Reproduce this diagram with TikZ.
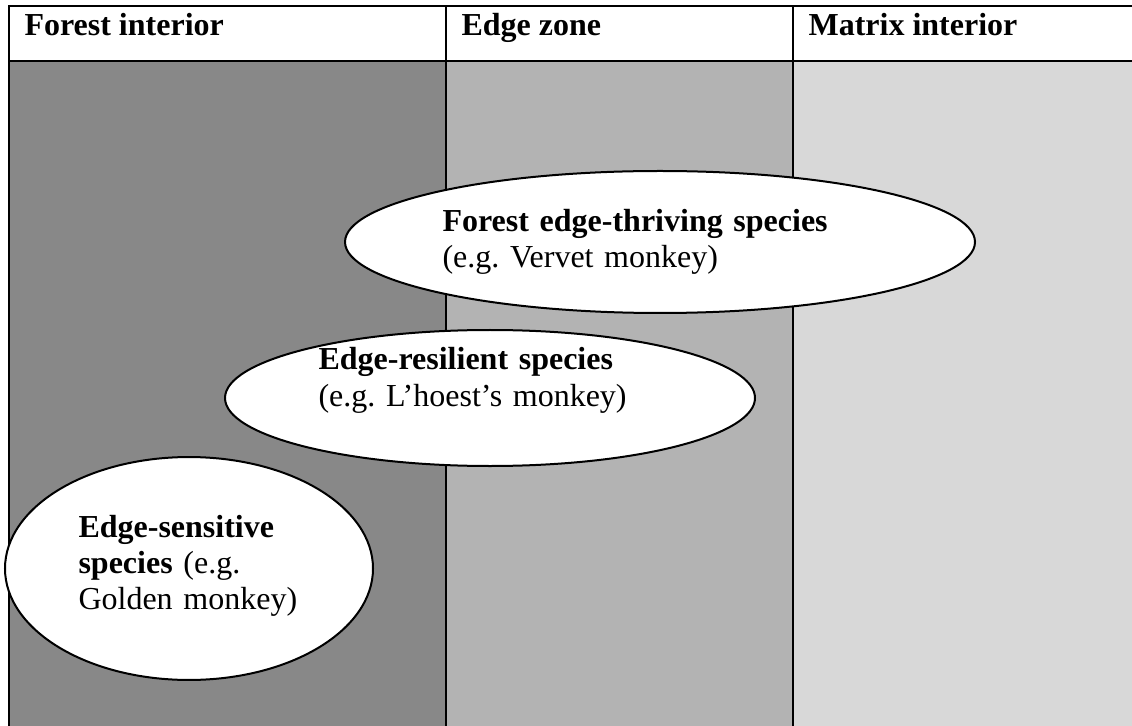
\documentclass[tikz,border=0pt]{standalone}
\usepackage{fontspec}
\setmainfont{Liberation Serif}
\usetikzlibrary{shapes.geometric,positioning}
\definecolor{forestgray}{RGB}{136,136,136}
\definecolor{edgegray}{RGB}{179,179,179}
\definecolor{matrixgray}{RGB}{216,216,216}
\tikzset{
  zoneline/.style={draw=black,line width=0.7pt},
  headline/.style={draw=black,line width=1.1pt},
  headnode/.style={anchor=base west,inner sep=0pt,font=\fontsize{12}{13.8}\selectfont\bfseries},
  speciesnode/.style={ellipse,draw=black,line width=0.75pt,fill=white,inner sep=0pt},
  labelnode/.style={anchor=base west,inner sep=0pt,text width=200pt,align=left,
    font=\fontsize{12}{13.5}\selectfont\frenchspacing}
}

\begin{document}
\begin{tikzpicture}[x=0.375pt,y=-0.375pt]
  \useasboundingbox (0,0) rectangle (1132,726);
  \fill[forestgray] (9,61) rectangle (446,726);
  \fill[edgegray] (446,61) rectangle (793,726);
  \fill[matrixgray] (793,61) rectangle (1132,726);

  \draw[zoneline] (9,726) -- (9,6) -- (1132,6);
  \draw[zoneline] (446,6) -- (446,726);
  \draw[zoneline] (793,6) -- (793,726);
  \draw[headline] (9,61) -- (1132,61);

  \node[headnode] (forestHead) at (24,36) {Forest interior};
  \node[headnode] (edgeHead) at (461,36) {Edge zone};
  \node[headnode] (matrixHead) at (808,36) {Matrix interior};

  \node[speciesnode,minimum width=236.25pt,minimum height=53.25pt] (thriving) at (660,242) {};
  \node[speciesnode,minimum width=198.75pt,minimum height=51pt] (resilient) at (490,398) {};
  \node[speciesnode,minimum width=138pt,minimum height=83.6pt] (sensitive) at (189,568.5) {};

  \node[labelnode] (thrivingText) at (442,232)
    {\textbf{Forest edge-thriving species}\\(e.g. Vervet monkey)};
  \node[labelnode] (resilientText) at (318,370)
    {\textbf{Edge-resilient species}\\(e.g. L’hoest’s monkey)};
  \node[labelnode] (sensitiveText) at (78,537)
    {\textbf{Edge-sensitive}\\\textbf{species} (e.g.\\Golden monkey)};
\end{tikzpicture}
\end{document}
